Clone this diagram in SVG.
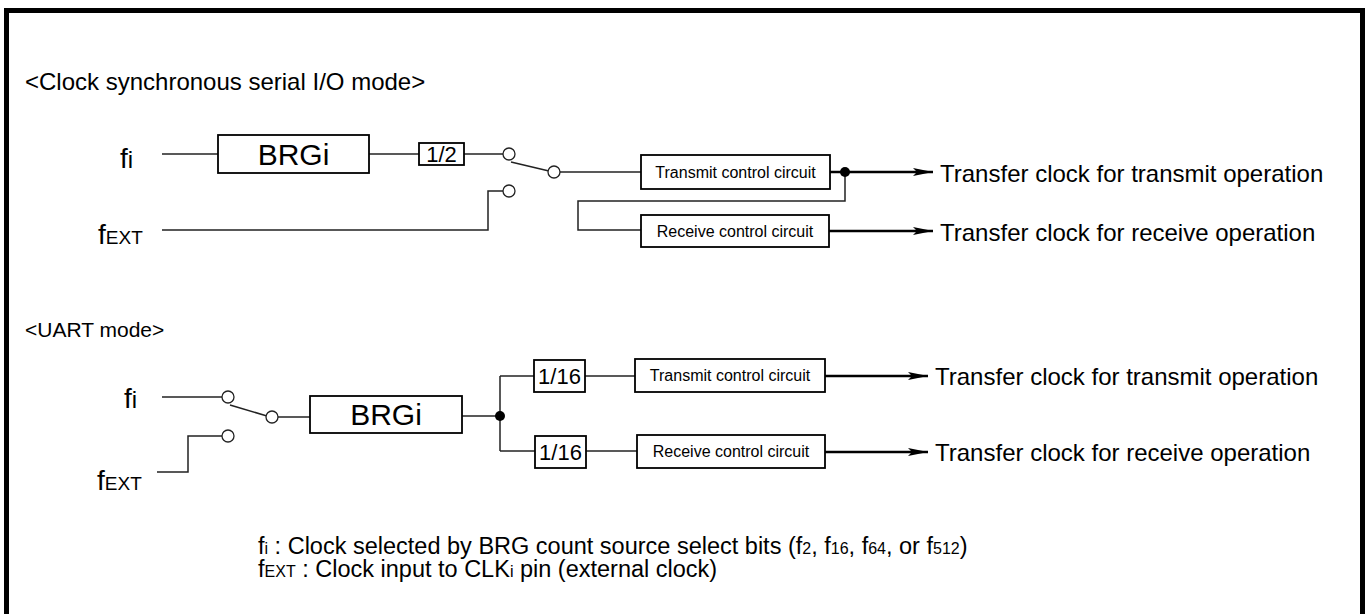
<svg xmlns="http://www.w3.org/2000/svg" width="1367" height="614" viewBox="0 0 1367 614">
<style>
text{font-family:"Liberation Sans",Arial,sans-serif;fill:#000}
.box{fill:#fff;stroke:#000;stroke-width:1.8}
.w{fill:none;stroke:#222;stroke-width:1.5}
.out{fill:none;stroke:#000;stroke-width:2.5}
.sw{fill:#fff;stroke:#222;stroke-width:1.3}
.t24{font-size:24px}
.note{font-size:23.5px}
.cc{font-size:16px;text-anchor:middle}
.div{font-size:22px;text-anchor:middle}
.brg{font-size:30px;text-anchor:middle}
.lbl{font-size:28px}
.sub{font-size:19px}
.ns{font-size:16px}
</style>
<defs>
<marker id="arr" markerWidth="20" markerHeight="8" refX="20" refY="4" orient="auto" markerUnits="userSpaceOnUse"><path d="M0,0 L20,4 L0,8 L4,4 Z" fill="#000"/></marker>
</defs>
<rect x="6.5" y="10.5" width="1356" height="640" fill="none" stroke="#000" stroke-width="5"/>

<text class="t24" x="25" y="90">&lt;Clock synchronous serial I/O mode&gt;</text>
<text style="font-size:21px" x="25" y="337">&lt;UART mode&gt;</text>

<g id="connectors">
<path class="w" d="M162,154 H218"/>
<path class="w" d="M369,154 H419"/>
<path class="w" d="M464,154 H503"/>
<path class="w" d="M511,162 L549,171"/>
<path class="w" d="M162,230 H488 V191 H503"/>
<path class="w" d="M560,172 H641"/>
<path class="w" d="M845,172 V201 H578 V230 H641"/>
<path class="out" d="M830,172 H933" marker-end="url(#arr)"/>
<path class="out" d="M829,231 H933" marker-end="url(#arr)"/>
<path class="w" d="M162,397 H222"/>
<path class="w" d="M230,405 L267,416"/>
<path class="w" d="M157,472 H188 V436 H222"/>
<path class="w" d="M278,417 H310"/>
<path class="w" d="M462,416 H500"/>
<path class="w" d="M500,376 V451"/>
<path class="w" d="M500,376 H534"/>
<path class="w" d="M500,451 H535"/>
<path class="w" d="M585,376 H635"/>
<path class="w" d="M586,451 H637"/>
<path class="out" d="M825,376 H928" marker-end="url(#arr)"/>
<path class="out" d="M825,452 H928" marker-end="url(#arr)"/>
</g>

<g id="sw1">
<circle class="sw" cx="509" cy="154" r="6"/>
<circle class="sw" cx="554" cy="172" r="6"/>
<circle class="sw" cx="509" cy="191" r="6"/>
</g>
<circle id="dot1" cx="845" cy="172" r="5" fill="#000"/>
<g id="sw2">
<circle class="sw" cx="228" cy="397" r="6"/>
<circle class="sw" cx="272" cy="417" r="6"/>
<circle class="sw" cx="228" cy="436" r="6"/>
</g>
<circle id="dot2" cx="500" cy="416" r="5" fill="#000"/>

<g id="fi1"><text class="lbl" x="120" y="168">f<tspan style="font-size:24px">i</tspan></text></g>
<g id="fext1"><text class="lbl" x="98" y="244">f<tspan class="sub">EXT</tspan></text></g>
<g id="brg1"><rect class="box" x="218" y="135" width="151" height="38"/><text class="brg" x="293.5" y="165">BRGi</text></g>
<g id="div2"><rect class="box" x="419" y="143" width="45" height="22"/><text class="div" x="441.5" y="162">1/2</text></g>
<g id="tx1"><rect class="box" x="641" y="155" width="189" height="34"/><text class="cc" x="735.5" y="178">Transmit control circuit</text></g>
<g id="rx1"><rect class="box" x="641" y="215" width="188" height="32"/><text class="cc" x="735" y="237">Receive control circuit</text></g>
<g id="out1"><text class="t24" x="940" y="182">Transfer clock for transmit operation</text></g>
<g id="out2"><text class="t24" x="940" y="241">Transfer clock for receive operation</text></g>

<g id="fi2"><text class="lbl" x="124" y="408">f<tspan style="font-size:24px">i</tspan></text></g>
<g id="fext2"><text class="lbl" x="97" y="490">f<tspan class="sub">EXT</tspan></text></g>
<g id="brg2"><rect class="box" x="310" y="396" width="152" height="37"/><text class="brg" x="386" y="425">BRGi</text></g>
<g id="div16a"><rect class="box" x="534" y="360" width="51" height="32"/><text class="div" x="559.5" y="384">1/16</text></g>
<g id="div16b"><rect class="box" x="535" y="436" width="51" height="32"/><text class="div" x="560.5" y="460">1/16</text></g>
<g id="tx2"><rect class="box" x="635" y="359" width="190" height="33"/><text class="cc" x="730" y="381">Transmit control circuit</text></g>
<g id="rx2"><rect class="box" x="637" y="435" width="188" height="33"/><text class="cc" x="731" y="457">Receive control circuit</text></g>
<g id="out3"><text class="t24" x="935" y="385">Transfer clock for transmit operation</text></g>
<g id="out4"><text class="t24" x="935" y="461">Transfer clock for receive operation</text></g>

<g id="notes">
<text class="note" x="258" y="554">f<tspan class="ns">i</tspan> : Clock selected by BRG count source select bits (f<tspan class="ns">2</tspan>, f<tspan class="ns">16</tspan>, f<tspan class="ns">64</tspan>, or f<tspan class="ns">512</tspan>)</text>
<text class="note" x="258" y="577">f<tspan class="ns">EXT</tspan> : Clock input to CLK<tspan class="ns">i</tspan> pin (external clock)</text>
</g>
</svg>
